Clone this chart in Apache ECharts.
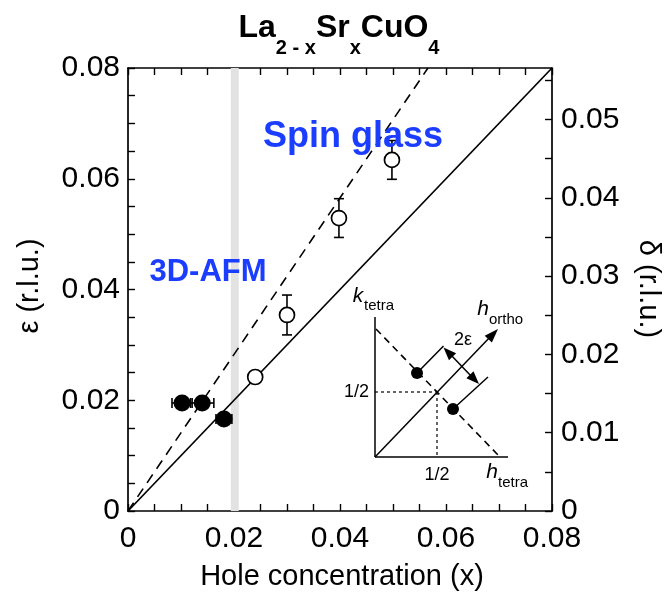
<!DOCTYPE html>
<html>
<head>
<meta charset="utf-8">
<script src="https://cdn.jsdelivr.net/npm/echarts@6/dist/echarts.min.js"></script>
<style>
  html, body { margin: 0; padding: 0; background: #fff; }
  #chart { width: 666px; height: 595px; }
</style>
</head>
<body>
<div id="chart"></div>
<script>
// Incommensurate splitting ε vs hole concentration x in La(2-x)Sr(x)CuO4

// filled circles: 3D-AFM regime, horizontal error bars on x
const afmX    = [0.0102, 0.0140, 0.0181];
const afmEps  = [0.0195, 0.0195, 0.0166];
const afmXErr = [0.0019, 0.0022, 0.0015];

// open circles: spin-glass regime, vertical error bars on ε
const sgX      = [0.0240, 0.0300, 0.0398, 0.0498];
const sgEps    = [0.0242, 0.0354, 0.0529, 0.0634];
const sgEpsErr = [0.0000, 0.0036, 0.0035, 0.0035];

// reference lines (x, ε): solid ε = x, dashed ε = √2·x
const solidLine  = [[0, 0], [0.08, 0.08]];
const dashedLine = [[0, 0], [0.0566, 0.08]];

// shaded boundary near x ≈ 0.02
const boundaryBand = [0.0194, 0.0209];

// axis ranges and tick steps
const xRange = [0, 0.08];
const epsRange = [0, 0.08];
const deltaMax = 0.08 / Math.SQRT2;
const tickStep = 0.005;
const epsLabelStep = 0.02;
const deltaLabelStep = 0.01;

const FONT = '"Liberation Sans", Arial, Helvetica, sans-serif';
const BLUE = '#1b3dff';
const TICK_FONT = 30;

function isMultiple(v, step) {
  const r = v / step;
  return Math.abs(r - Math.round(r)) < 1e-6;
}
function fmt(v) { return v === 0 ? '0' : v.toFixed(2); }

const tickStyle = {
  axisLine: { show: true, onZero: false, lineStyle: { color: '#000', width: 1.7 } },
  axisTick: { show: true, inside: true, length: 7, lineStyle: { color: '#000', width: 1.4 } },
  splitLine: { show: false },
  minorTick: { show: false }
};

const chart = echarts.init(document.getElementById('chart'), null, { renderer: 'canvas' });

function errorBarRenderer(horizontal) {
  return function (params, api) {
    const x = api.value(0), y = api.value(1), e = api.value(2);
    if (!e) return null;
    const a = horizontal ? api.coord([x - e, y]) : api.coord([x, y - e]);
    const b = horizontal ? api.coord([x + e, y]) : api.coord([x, y + e]);
    const c = 5;
    const st = { stroke: '#000', lineWidth: 1.6 };
    const caps = horizontal
      ? [[a[0], a[1] - c, a[0], a[1] + c], [b[0], b[1] - c, b[0], b[1] + c]]
      : [[a[0] - c, a[1], a[0] + c, a[1]], [b[0] - c, b[1], b[0] + c, b[1]]];
    return {
      type: 'group',
      children: [
        { type: 'line', shape: { x1: a[0], y1: a[1], x2: b[0], y2: b[1] }, style: st },
        { type: 'line', shape: { x1: caps[0][0], y1: caps[0][1], x2: caps[0][2], y2: caps[0][3] }, style: st },
        { type: 'line', shape: { x1: caps[1][0], y1: caps[1][1], x2: caps[1][2], y2: caps[1][3] }, style: st }
      ]
    };
  };
}

// --- reciprocal-space sketch (inset) ---
function arrowHead(tip, from, len, half) {
  const dx = tip[0] - from[0], dy = tip[1] - from[1];
  const d = Math.hypot(dx, dy), ux = dx / d, uy = dy / d;
  const bx = tip[0] - ux * len, by = tip[1] - uy * len;
  return {
    type: 'polygon',
    shape: { points: [tip, [bx - uy * half, by + ux * half], [bx + uy * half, by - ux * half]] },
    style: { fill: '#000' }
  };
}
function seg(p, q, extra) {
  return Object.assign({
    type: 'line',
    shape: { x1: p[0], y1: p[1], x2: q[0], y2: q[1] },
    style: { stroke: '#000', lineWidth: 1.5 }
  }, extra || {});
}
function label(text, x, y, size, opts) {
  return {
    type: 'text', x: x, y: y,
    style: Object.assign({
      text: text, fontFamily: FONT, fontSize: size, fill: '#000',
      align: 'center', verticalAlign: 'middle'
    }, opts || {})
  };
}

const O = [375, 457];
const diagTip = [498, 329];
const dblA = [443.5, 347.5], dblB = [479, 384];
const dot1 = [417, 373], dot2 = [453, 409];
const inset = [
  seg(O, [375, 317]),
  seg(O, [508, 457]),
  seg(O, [diagTip[0] - 6, diagTip[1] + 6]),
  arrowHead(diagTip, O, 14, 5),
  { type: 'line', shape: { x1: 376, y1: 329, x2: 500, y2: 457 },
    style: { stroke: '#000', lineWidth: 1.6, lineDash: [7, 5] } },
  { type: 'line', shape: { x1: 375, y1: 392, x2: 437, y2: 392 },
    style: { stroke: '#000', lineWidth: 1.2, lineDash: [3, 3] } },
  { type: 'line', shape: { x1: 437, y1: 392, x2: 437, y2: 457 },
    style: { stroke: '#000', lineWidth: 1.2, lineDash: [3, 3] } },
  seg(dot1, [443.5, 346]),
  seg(dot2, [488, 377]),
  seg([dblA[0] + 7, dblA[1] + 7], [dblB[0] - 7, dblB[1] - 7]),
  arrowHead(dblA, dblB, 13, 5),
  arrowHead(dblB, dblA, 13, 5),
  { type: 'circle', shape: { cx: dot1[0], cy: dot1[1], r: 6 }, style: { fill: '#000' } },
  { type: 'circle', shape: { cx: dot2[0], cy: dot2[1], r: 6 }, style: { fill: '#000' } },
  label('k', 358, 296, 21, { fontStyle: 'italic' }),
  label('tetra', 364, 306, 15, { align: 'left' }),
  label('h', 483, 309, 21, { fontStyle: 'italic' }),
  label('ortho', 489, 320, 15, { align: 'left' }),
  label('2ε', 463, 340, 18),
  label('1/2', 369, 392, 18, { align: 'right' }),
  label('1/2', 437, 475, 18),
  label('h', 492, 472, 21, { fontStyle: 'italic' }),
  label('tetra', 498, 483, 15, { align: 'left' })
];

const option = {
  animation: false,
  backgroundColor: '#fff',
  grid: { left: 128, right: 114, top: 68, bottom: 84, containLabel: false },
  xAxis: [
    Object.assign({
      type: 'value', position: 'bottom', min: xRange[0], max: xRange[1], interval: tickStep,
      axisLabel: {
        fontFamily: FONT, fontSize: TICK_FONT, color: '#000', margin: 13,
        formatter: v => isMultiple(v, epsLabelStep) ? fmt(v) : ''
      }
    }, tickStyle),
    Object.assign({
      type: 'value', position: 'top', min: xRange[0], max: xRange[1], interval: tickStep,
      axisLabel: { show: false }
    }, tickStyle)
  ],
  yAxis: [
    Object.assign({
      type: 'value', position: 'left', min: epsRange[0], max: epsRange[1], interval: tickStep,
      axisLabel: {
        fontFamily: FONT, fontSize: TICK_FONT, color: '#000', margin: 8,
        formatter: v => isMultiple(v, epsLabelStep) ? fmt(v) : ''
      }
    }, tickStyle),
    Object.assign({
      type: 'value', position: 'right', min: 0, max: deltaMax, interval: tickStep,
      axisLabel: {
        fontFamily: FONT, fontSize: TICK_FONT, color: '#000', margin: 9,
        showMaxLabel: false,
        formatter: v => (isMultiple(v, deltaLabelStep) && v < 0.0505) ? fmt(v) : ''
      }
    }, tickStyle)
  ],
  series: [
    {
      type: 'line', name: 'band', data: [], silent: true,
      markArea: {
        silent: true,
        itemStyle: { color: '#e2e2e2', opacity: 1 },
        data: [[{ xAxis: boundaryBand[0] }, { xAxis: boundaryBand[1] }]]
      }
    },
    {
      type: 'line', data: solidLine, symbol: 'none', silent: true,
      lineStyle: { color: '#000', width: 1.7 }, z: 3
    },
    {
      type: 'line', data: dashedLine, symbol: 'none', silent: true,
      lineStyle: { color: '#000', width: 1.6, type: [10, 7] }, z: 3
    },
    {
      type: 'custom', renderItem: errorBarRenderer(true), z: 4,
      data: afmX.map((x, i) => [x, afmEps[i], afmXErr[i]])
    },
    {
      type: 'custom', renderItem: errorBarRenderer(false), z: 4,
      data: sgX.map((x, i) => [x, sgEps[i], sgEpsErr[i]])
    },
    {
      type: 'scatter', symbol: 'circle', symbolSize: 17, z: 5,
      itemStyle: { color: '#000', borderColor: '#000', borderWidth: 0, opacity: 1 },
      data: afmX.map((x, i) => [x, afmEps[i]])
    },
    {
      type: 'scatter', symbol: 'circle', symbolSize: 15, z: 5,
      itemStyle: { color: '#fff', borderColor: '#000', borderWidth: 1.7, opacity: 1 },
      data: sgX.map((x, i) => [x, sgEps[i]])
    }
  ],
  graphic: [
    {
      type: 'text', x: 339, y: 12, z: 10,
      style: {
        text: '{a|La}{s|2 - x}{a|Sr}{s|x}{a|CuO}{s|4}',
        align: 'center', verticalAlign: 'top',
        rich: {
          a: { fontFamily: FONT, fontSize: 32, fontWeight: 'bold', fill: '#000', lineHeight: 46, verticalAlign: 'top' },
          s: { fontFamily: FONT, fontSize: 20, fontWeight: 'bold', fill: '#000', lineHeight: 20, verticalAlign: 'bottom' }
        }
      }
    },
    {
      type: 'text', x: 30, y: 286, rotation: Math.PI / 2, z: 10,
      style: { text: 'ε (r.l.u.)', fontFamily: FONT, fontSize: 29, fill: '#000', align: 'center', verticalAlign: 'middle' }
    },
    {
      type: 'text', x: 648, y: 289, rotation: -Math.PI / 2, z: 10,
      style: { text: 'δ (r.l.u.)', fontFamily: FONT, fontSize: 29, fill: '#000', align: 'center', verticalAlign: 'middle' }
    },
    {
      type: 'text', x: 342, y: 577, z: 10,
      style: { text: 'Hole concentration (x)', fontFamily: FONT, fontSize: 29, fill: '#000', align: 'center', verticalAlign: 'middle' }
    },
    {
      type: 'text', x: 353, y: 137, z: 10,
      style: { text: 'Spin glass', fontFamily: FONT, fontSize: 36, fontWeight: 'bold', fill: BLUE, align: 'center', verticalAlign: 'middle' }
    },
    {
      type: 'text', x: 208, y: 272, z: 10,
      style: { text: '3D-AFM', fontFamily: FONT, fontSize: 31, fontWeight: 'bold', fill: BLUE, align: 'center', verticalAlign: 'middle' }
    },
    { type: 'group', z: 10, children: inset }
  ]
};

chart.setOption(option);
</script>
</body>
</html>
